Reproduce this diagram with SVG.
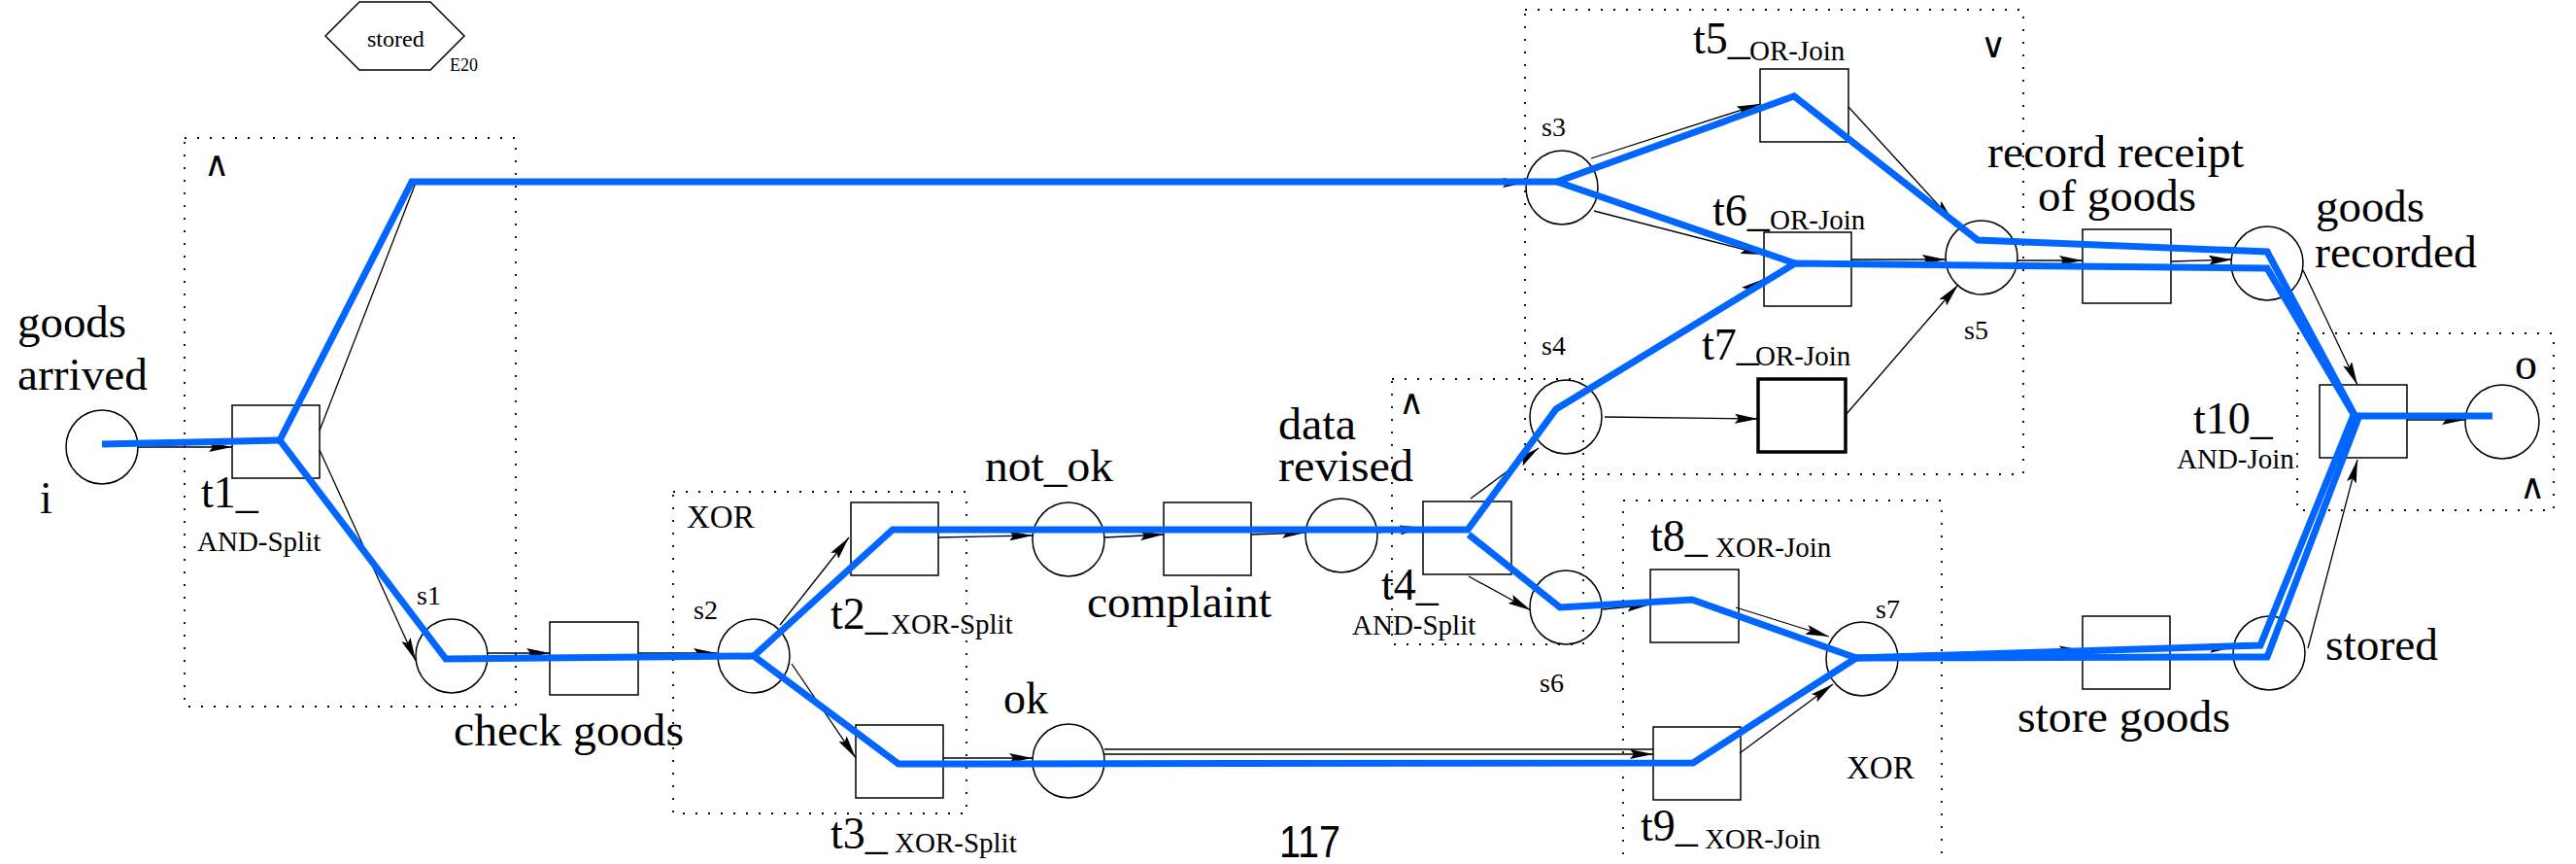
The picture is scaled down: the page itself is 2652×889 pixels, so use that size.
<svg xmlns="http://www.w3.org/2000/svg" width="2652" height="889" viewBox="0 0 2652 889">
<style>
.pl{fill:none;stroke:#000;stroke-width:1.5}
.tr{fill:none;stroke:#000;stroke-width:1.5}
.tk{fill:none;stroke:#000;stroke-width:3.5}
.dot{fill:none;stroke:#000;stroke-width:1.8;stroke-dasharray:2 11}
.ar{fill:none;stroke:#000;stroke-width:1.3;marker-end:url(#ah)}
.ln{fill:none;stroke:#000;stroke-width:1.3}
.bl{fill:none;stroke:#0066ff;stroke-width:7;stroke-linejoin:miter;stroke-miterlimit:10}
text{font-family:'Liberation Serif','Times New Roman',serif;fill:#000}
.L{font-size:46px}
.S{font-size:29px}
.P{font-size:28px}
.X{font-size:33px}
.Y{font-family:'DejaVu Sans','Liberation Sans',sans-serif;font-size:36px;font-weight:normal}
.N{font-family:'Liberation Sans',Arial,sans-serif;font-size:46px}
</style>
<defs>
<marker id="ah" viewBox="0 0 24 10" refX="24" refY="5" markerWidth="24" markerHeight="10" markerUnits="userSpaceOnUse" orient="auto">
<path d="M0,0 L24,5 L0,10 L4,5 z" fill="#000"/>
</marker>
</defs>
<rect width="2652" height="889" fill="#fff"/>

<g id="legend">
<polygon points="335,37 370,2 443,2 478,37 443,72 370,72" class="pl"/>
<text x="378" y="48" font-size="24">stored</text>
<text x="463" y="73" font-size="18">E20</text>
</g>

<g id="regions">
<rect id="r-and-split" x="190" y="142" width="341" height="585" class="dot"/>
<text x="210" y="181" class="Y">∧</text>
<rect id="r-xor-split" x="693" y="506" width="302" height="331" class="dot"/>
<text x="707" y="543" class="X">XOR</text>
<rect id="r-and-split2" x="1433" y="390" width="197" height="273" class="dot"/>
<text x="1440" y="426" class="Y">∧</text>
<rect id="r-or-join" x="1570" y="10" width="513" height="478" class="dot"/>
<text x="2039" y="59" class="Y">∨</text>
<rect id="r-xor-join" x="1671" y="515" width="328" height="400" class="dot"/>
<text x="1901" y="801" class="X">XOR</text>
<rect id="r-and-join" x="2365" y="343" width="264" height="182" class="dot"/>
<text x="2594" y="513" class="Y">∧</text>
</g>

<g id="connectors">
<polyline class="ar" points="142,460 239,460"/>
<polyline class="ar" points="329,463 428,680"/>
<polyline class="ar" points="329,443 428,188 1571,188"/>
<polyline class="ar" points="502,672 566,672"/>
<polyline class="ar" points="657,672 738,672"/>
<polyline class="ar" points="803,643 874,553"/>
<polyline class="ar" points="815,683 881,780"/>
<polyline class="ar" points="966,553 1063,551"/>
<polyline class="ar" points="1137,553 1198,550"/>
<polyline class="ar" points="1288,550 1344,548"/>
<polyline class="ar" points="1418,548 1465,543"/>
<polyline class="ar" points="1514,513 1584,461"/>
<polyline class="ar" points="1512,593 1576,628"/>
<polyline class="ar" points="971,780 1063,780"/>
<polyline class="ln" points="1137,771 1702,771"/>
<polyline class="ar" points="1137,776 1702,776"/>
<polyline class="ar" points="1638,163 1812,107"/>
<polyline class="ar" points="1641,217 1816,262"/>
<polyline class="ar" points="1640,400 1816,287"/>
<polyline class="ar" points="1652,429 1810,431"/>
<polyline class="ar" points="1903,110 2011,228"/>
<polyline class="ar" points="1906,267 2003,267"/>
<polyline class="ar" points="1900,427 2016,293"/>
<polyline class="ar" points="2077,268 2144,268"/>
<polyline class="ar" points="2235,269 2298,267"/>
<polyline class="ar" points="2371,278 2427,396"/>
<polyline class="ar" points="2478,432 2538,432"/>
<polyline class="ar" points="1650,627 1699,622"/>
<polyline class="ar" points="1787,625 1883,655"/>
<polyline class="ar" points="1791,775 1887,704"/>
<polyline class="ar" points="1955,673 2144,669"/>
<polyline class="ar" points="2234,668 2299,666"/>
<polyline class="ar" points="2376,667 2427,473"/>
</g>

<g id="places">
<g id="p-i"><ellipse cx="105" cy="460" rx="37" ry="38" class="pl"/><text x="41" y="528" class="L">i</text></g>
<g id="p-goods-arrived"><text x="18" y="347" class="L" textLength="112" lengthAdjust="spacingAndGlyphs">goods</text><text x="18" y="401" class="L" textLength="134" lengthAdjust="spacingAndGlyphs">arrived</text></g>
<g id="p-s1"><ellipse cx="465" cy="675" rx="37" ry="38" class="pl"/><text x="429" y="622" class="P">s1</text></g>
<g id="p-s2"><ellipse cx="776" cy="675" rx="37" ry="38" class="pl"/><text x="714" y="637" class="P">s2</text></g>
<g id="p-not-ok"><ellipse cx="1100" cy="555" rx="37" ry="38" class="pl"/><text x="1014" y="495" class="L" textLength="132" lengthAdjust="spacingAndGlyphs">not_ok</text></g>
<g id="p-ok"><ellipse cx="1100" cy="783" rx="37" ry="38" class="pl"/><text x="1033" y="734" class="L">ok</text></g>
<g id="p-data-revised"><ellipse cx="1381" cy="551" rx="37" ry="38" class="pl"/><text x="1316" y="452" class="L" font-size="42" textLength="80" lengthAdjust="spacingAndGlyphs">data</text><text x="1316" y="495" class="L" font-size="42" textLength="139" lengthAdjust="spacingAndGlyphs">revised</text></g>
<g id="p-s3"><ellipse cx="1608" cy="193" rx="37" ry="38" class="pl"/><text x="1587" y="140" class="P">s3</text></g>
<g id="p-s4"><ellipse cx="1612" cy="429" rx="37" ry="38" class="pl"/><text x="1587" y="365" class="P">s4</text></g>
<g id="p-s5"><ellipse cx="2040" cy="265" rx="37" ry="38" class="pl"/><text x="2022" y="349" class="P">s5</text></g>
<g id="p-s6"><ellipse cx="1612" cy="625" rx="37" ry="38" class="pl"/><text x="1585" y="712" class="P">s6</text></g>
<g id="p-s7"><ellipse cx="1917" cy="678" rx="37" ry="38" class="pl"/><text x="1931" y="636" class="P">s7</text></g>
<g id="p-goods-recorded"><ellipse cx="2334" cy="271" rx="37" ry="38" class="pl"/><text x="2384" y="228" class="L" textLength="112" lengthAdjust="spacingAndGlyphs">goods</text><text x="2383" y="275" class="L" textLength="167" lengthAdjust="spacingAndGlyphs">recorded</text></g>
<g id="p-stored"><ellipse cx="2336" cy="672" rx="37" ry="38" class="pl"/><text x="2394" y="679" class="L" textLength="116" lengthAdjust="spacingAndGlyphs">stored</text></g>
<g id="p-o"><ellipse cx="2576" cy="434" rx="38" ry="38" class="pl"/><text x="2589" y="390" class="L">o</text></g>
</g>

<g id="transitions">
<g id="t1"><rect x="239" y="417" width="90" height="75" class="tr"/><text x="207" y="522" class="L">t1_</text><text x="203" y="567" class="S">AND-Split</text></g>
<g id="t-check-goods"><rect x="566" y="640" width="91" height="75" class="tr"/><text x="467" y="767" class="L" textLength="237" lengthAdjust="spacingAndGlyphs">check goods</text></g>
<g id="t2"><rect x="876" y="517" width="90" height="75" class="tr"/><text x="855" y="647" class="L">t2_</text><text x="917" y="652" class="S">XOR-Split</text></g>
<g id="t3"><rect x="881" y="746" width="90" height="75" class="tr"/><text x="855" y="873" class="L">t3_</text><text x="921" y="877" class="S">XOR-Split</text></g>
<g id="t-complaint"><rect x="1198" y="517" width="90" height="75" class="tr"/><text x="1119" y="635" class="L" textLength="190" lengthAdjust="spacingAndGlyphs">complaint</text></g>
<g id="t4"><rect x="1465" y="516" width="91" height="75" class="tr"/><text x="1422" y="617" class="L">t4_</text><text x="1392" y="653" class="S">AND-Split</text></g>
<g id="t5"><rect x="1812" y="71" width="91" height="75" class="tr"/><text x="1743" y="55" class="L">t5_</text><text x="1801" y="62" class="S">OR-Join</text></g>
<g id="t6"><rect x="1816" y="239" width="90" height="76" class="tr"/><text x="1763" y="232" class="L">t6_</text><text x="1822" y="236" class="S">OR-Join</text></g>
<g id="t7"><rect x="1810" y="390" width="90" height="75" class="tk"/><text x="1752" y="370" class="L">t7_</text><text x="1807" y="376" class="S">OR-Join</text></g>
<g id="t-record"><rect x="2144" y="236" width="91" height="76" class="tr"/><text x="2046" y="172" class="L" font-size="42" textLength="264" lengthAdjust="spacingAndGlyphs">record receipt</text><text x="2098" y="217" class="L" font-size="42" textLength="163" lengthAdjust="spacingAndGlyphs">of goods</text></g>
<g id="t8"><rect x="1699" y="586" width="91" height="75" class="tr"/><text x="1699" y="567" class="L">t8_</text><text x="1766" y="573" class="S">XOR-Join</text></g>
<g id="t9"><rect x="1702" y="748" width="90" height="75" class="tr"/><text x="1689" y="865" class="L">t9_</text><text x="1755" y="873" class="S">XOR-Join</text></g>
<g id="t-store-goods"><rect x="2144" y="634" width="90" height="75" class="tr"/><text x="2077" y="753" class="L" textLength="219" lengthAdjust="spacingAndGlyphs">store goods</text></g>
<g id="t10"><rect x="2388" y="396" width="90" height="75" class="tr"/><text x="2258" y="446" class="L">t10_</text><text x="2241" y="482" class="S">AND-Join</text></g>
</g>

<g id="highlight">
<polyline class="bl" points="105,457 288,453"/>
<polyline class="bl" points="288,453 424,187 1603,187"/>
<polyline class="bl" points="288,453 459,678 776,675"/>
<polyline class="bl" points="776,675 919,545 1511,545 1602,421 1848,271 2334,276 2424,428"/>
<polyline class="bl" points="1603,187 1847,99 2036,247 2334,259 2424,427"/>
<polyline class="bl" points="1603,187 1848,271"/>
<polyline class="bl" points="1512,550 1606,625 1742,617 1911,677"/>
<polyline class="bl" points="776,675 925,786 1743,785 1911,677"/>
<polyline class="bl" points="1911,677 2334,676 2428,430"/>
<polyline class="bl" points="1911,677 2327,664 2423,427"/>
<polyline class="bl" points="2424,428 2566,428"/>
</g>

<text x="1317" y="882" class="N" textLength="63" lengthAdjust="spacingAndGlyphs">117</text>
</svg>
